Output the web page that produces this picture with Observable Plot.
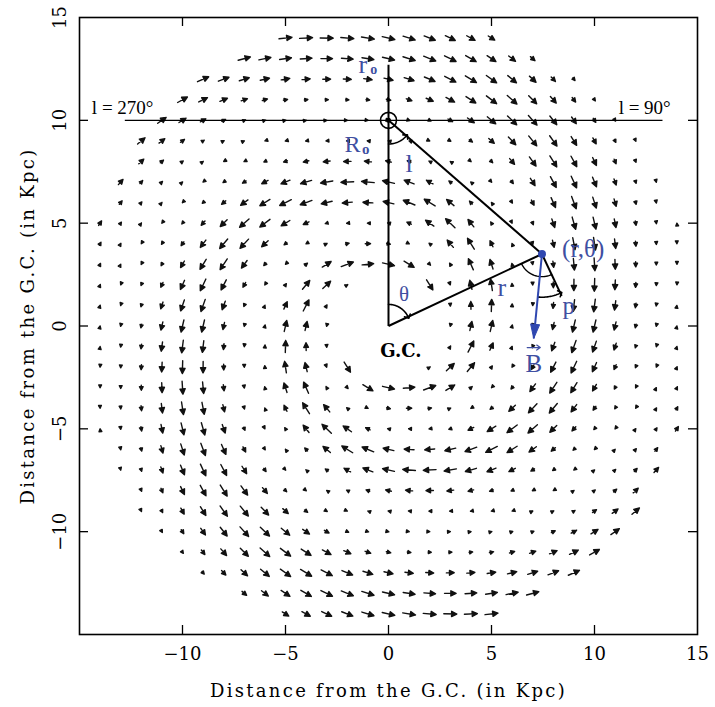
<!DOCTYPE html>
<html>
<head>
<meta charset="utf-8">
<script src="https://cdn.jsdelivr.net/npm/d3@7"></script>
<script src="https://cdn.jsdelivr.net/npm/@observablehq/plot@0.6"></script>
<style>
  body { margin: 0; background: #fff; }
</style>
</head>
<body>
<div id="chart"></div>
<script>
// ---------------- data ----------------
// axis ticks (kpc)
const xTickValues = [-10, -5, 0, 5, 10, 15];
const yTickValues = [-10, -5, 0, 5, 10, 15];
const tickMarks = [-10, -5, 0, 5, 10];
// vector-field grid (kpc) and bisymmetric-spiral model parameters
const gridCoords = [-14,-13,-12,-11,-10,-9,-8,-7,-6,-5,-4,-3,-2,-1,0,1,2,3,4,5,6,7,8,9,10,11,12,13,14];
const pitchAngleDeg = [13.1];     // inward pitch of the field lines
const reversalRadius = [9.5];     // field reversal through the Sun (on the GC-Sun line)
const fieldRadius = [2.5, 15];    // inner / outer edge of the plotted field
// geometry annotations (kpc)
const sunPos = [0, 10];
const gcPos = [0, 0];
const pointPos = [7.45, 3.5];
const bTipPos = [7.05, -0.6];
const longitudeLineX = [-12.8, 13.3];
const roLineTop = [12.7];
const xTitle = "Distance from the G.C. (in Kpc)";
const yTitle = "Distance from the G.C. (in Kpc)";

// ---------------- build ----------------
const W = 715, H = 707;
const mL = 79, mR = 18, mT = 17, mB = 73;
const innerW = W - mL - mR, innerH = H - mT - mB;
const blue = "#3f4fa2";
const bBlue = "#2f47b0";
const rad = Math.PI / 180;

const p = pitchAngleDeg[0] * rad;
const kappa = 1 / Math.tan(p), cp = Math.cos(p), sp = Math.sin(p);
const field = [];
for (const x of gridCoords) for (const y of gridCoords) {
  const r = Math.hypot(x, y);
  if (r < fieldRadius[0] || r > fieldRadius[1] + 1e-9) continue;
  const th = Math.atan2(x, y); // clockwise from +y
  const amp = Math.sin(th + kappa * Math.log(r / reversalRadius[0]));
  const ecw = [y / r, -x / r], er = [x / r, y / r];
  const vx = amp * (cp * ecw[0] - sp * er[0]);
  const vy = amp * (cp * ecw[1] - sp * er[1]);
  field.push({x, y, mag: Math.abs(amp), rotate: Math.atan2(vx, vy) / rad});
}

const fieldArrow = {
  draw(ctx, l) {
    const h = Math.max(2.8, Math.min(5.2, 0.4 * l + 1.6));
    const w = h * 0.5;
    ctx.moveTo(0, 0); ctx.lineTo(0, -l);
    ctx.moveTo(0, -l); ctx.lineTo(-w, -l + h); ctx.lineTo(w, -l + h); ctx.closePath();
  }
};
const bHead = {
  draw(ctx, l) {
    ctx.moveTo(0, -l); ctx.lineTo(-4.5, 0); ctx.lineTo(4.5, 0); ctx.closePath();
  }
};
const overArrow = {
  draw(ctx, l) {
    ctx.moveTo(0, 0); ctx.lineTo(0, -l);
    ctx.moveTo(-2.5, -l + 3.5); ctx.lineTo(0, -l); ctx.lineTo(2.5, -l + 3.5);
  }
};

function angleDeg(a, b) { return Math.atan2(b[1] - a[1], b[0] - a[0]) / rad; }
function arc(c, r, a0, a1, n = 24) {
  const pts = [];
  for (let i = 0; i <= n; i++) {
    const a = (a0 + (a1 - a0) * i / n) * rad;
    pts.push({x: c[0] + r * Math.cos(a), y: c[1] + r * Math.sin(a)});
  }
  return pts;
}
const sunToP = angleDeg(sunPos, pointPos);
const gcToP = angleDeg(gcPos, pointPos);
const tangentAng = gcToP - 90;
const bAng = angleDeg(pointPos, bTipPos);
const tangentEnd = [pointPos[0] + 2.25 * Math.cos(tangentAng * rad), pointPos[1] + 2.25 * Math.sin(tangentAng * rad)];
const bRotate = Math.atan2(bTipPos[0] - pointPos[0], bTipPos[1] - pointPos[1]) / rad;

const arcL = arc(sunPos, 1.15, -90, sunToP);
const arcTheta = arc(gcPos, 1.05, 90, gcToP);
const arcRight = arc(pointPos, 1.1, gcToP + 180, tangentAng + 360);
const arcP = arc(pointPos, 2.1, bAng, tangentAng);

const fmt = d => d < 0 ? "\u2212" + (-d) : String(d);
const serif = "DejaVu Serif";
const times = "Liberation Serif";

const chart = Plot.plot({
  width: W, height: H,
  marginLeft: mL, marginRight: mR, marginTop: mT, marginBottom: mB,
  style: {background: "white", overflow: "visible"},
  x: {domain: [-15, 15], axis: null},
  y: {domain: [-15, 15], axis: null},
  length: {type: "pow", exponent: 2, domain: [0, 1], range: [0, 13]},
  marks: [
    // field
    Plot.vector(field, {x: "x", y: "y", rotate: "rotate", length: "mag", anchor: "middle",
      shape: fieldArrow, stroke: "#111", fill: "#111", strokeWidth: 1.4}),
    // frame and ticks
    Plot.frame({stroke: "black", strokeWidth: 1.6}),
    Plot.ruleX(tickMarks, {x: d => d, insetTop: innerH - 9, stroke: "black", strokeWidth: 1.3}),
    Plot.ruleX(tickMarks, {x: d => d, insetBottom: innerH - 9, stroke: "black", strokeWidth: 1.3}),
    Plot.ruleY(tickMarks, {y: d => d, insetLeft: innerW - 9, stroke: "black", strokeWidth: 1.3}),
    Plot.ruleY(tickMarks, {y: d => d, insetRight: innerW - 9, stroke: "black", strokeWidth: 1.3}),
    // tick labels
    Plot.text(xTickValues, {x: d => d, y: -15, dy: 20, text: fmt, fontSize: 18, fontFamily: serif}),
    Plot.text(yTickValues, {x: -15, y: d => d, dx: -19, rotate: -90, text: fmt, fontSize: 18, fontFamily: serif}),
    // axis titles
    Plot.text([xTitle], {frameAnchor: "bottom", dy: 62, textAnchor: "middle", text: d => d, fontSize: 18, fontFamily: serif}),
    Plot.text([yTitle], {frameAnchor: "left", dx: -51, rotate: -90, textAnchor: "middle", text: d => d, fontSize: 18, fontFamily: serif}),
    // geometry lines
    Plot.link([0], {x1: longitudeLineX[0], x2: longitudeLineX[1], y1: sunPos[1], y2: sunPos[1], stroke: "black", strokeWidth: 1.2}),
    Plot.link([0], {x1: gcPos[0], y1: gcPos[1], x2: gcPos[0], y2: roLineTop[0], stroke: "black", strokeWidth: 2}),
    Plot.link([0], {x1: sunPos[0], y1: sunPos[1], x2: pointPos[0], y2: pointPos[1], stroke: "black", strokeWidth: 2}),
    Plot.link([0], {x1: gcPos[0], y1: gcPos[1], x2: pointPos[0], y2: pointPos[1], stroke: "black", strokeWidth: 2}),
    Plot.link([0], {x1: pointPos[0], y1: pointPos[1], x2: tangentEnd[0], y2: tangentEnd[1], stroke: "black", strokeWidth: 2}),
    // angle arcs
    Plot.line(arcL, {x: "x", y: "y", stroke: "black", strokeWidth: 1.6, markerEnd: "arrow"}),
    Plot.line(arcTheta, {x: "x", y: "y", stroke: "black", strokeWidth: 1.6, markerEnd: "arrow"}),
    Plot.line(arcRight, {x: "x", y: "y", stroke: "black", strokeWidth: 1.4}),
    Plot.line(arcP, {x: "x", y: "y", stroke: "black", strokeWidth: 1.6, markerEnd: "arrow"}),
    // Sun symbol
    Plot.dot([sunPos], {x: d => d[0], y: d => d[1], r: 8, stroke: "black", strokeWidth: 1.6, fill: "none"}),
    Plot.dot([sunPos], {x: d => d[0], y: d => d[1], r: 2.5, fill: "black"}),
    // B vector
    Plot.link([0], {x1: pointPos[0], y1: pointPos[1], x2: bTipPos[0], y2: bTipPos[1], stroke: bBlue, strokeWidth: 2}),
    Plot.vector([bTipPos], {x: d => d[0], y: d => d[1], length: 14, rotate: bRotate, anchor: "end", shape: bHead, fill: bBlue, stroke: bBlue, strokeWidth: 1}),
    Plot.dot([pointPos], {x: d => d[0], y: d => d[1], r: 4, fill: bBlue}),
    // labels
    Plot.text(["l = 270\u00b0"], {x: -14.4, y: sunPos[1], dy: -12, textAnchor: "start", text: d => d, fontSize: 19, fontFamily: times}),
    Plot.text(["l = 90\u00b0"], {x: 13.7, y: sunPos[1], dy: -12, textAnchor: "end", text: d => d, fontSize: 19, fontFamily: times}),
    Plot.text(["r"], {x: -1.25, y: 12.7, text: d => d, fontSize: 26, fontFamily: times, fill: blue}),
    Plot.text(["o"], {x: -0.72, y: 12.45, text: d => d, fontSize: 14, fontWeight: "bold", fontFamily: times, fill: blue}),
    Plot.text(["R"], {x: -1.75, y: 8.85, text: d => d, fontSize: 24, fontFamily: times, fill: blue}),
    Plot.text(["o"], {x: -1.1, y: 8.6, text: d => d, fontSize: 15, fontWeight: "bold", fontFamily: times, fill: blue}),
    Plot.text(["l"], {x: 1.0, y: 7.9, text: d => d, fontSize: 26, fontFamily: times, fill: blue}),
    Plot.text(["\u03b8"], {x: 0.75, y: 1.55, text: d => d, fontSize: 21, fontFamily: times, fill: blue}),
    Plot.text(["r"], {x: 5.5, y: 1.85, text: d => d, fontSize: 26, fontFamily: times, fill: blue}),
    Plot.text(["(r,\u03b8)"], {x: 9.45, y: 3.75, text: d => d, fontSize: 25, fontFamily: times, fill: blue}),
    Plot.text(["p"], {x: 8.75, y: 0.95, text: d => d, fontSize: 25, fontFamily: times, fill: blue}),
    Plot.text(["B"], {x: 7.05, y: -1.85, text: d => d, fontSize: 25, fontFamily: times, fill: blue}),
    Plot.vector([[7.05, -1.05]], {x: d => d[0], y: d => d[1], length: 13, rotate: 90, anchor: "middle", shape: overArrow, stroke: blue, strokeWidth: 1.3}),
    Plot.text(["G.C."], {x: 0.6, y: -1.25, text: d => d, fontSize: 18, fontWeight: "bold", fontFamily: serif})
  ]
});
d3.select(chart).selectAll("text").filter(function() { return this.textContent === xTitle; })
  .style("letter-spacing", "2.3px");
document.getElementById("chart").appendChild(chart);
</script>
</body>
</html>
